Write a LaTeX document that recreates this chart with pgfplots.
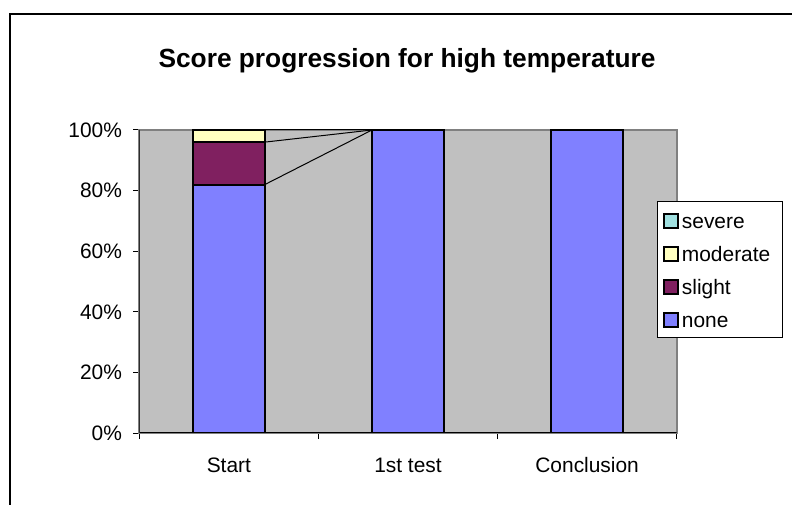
\documentclass[border=0pt]{standalone}
\usepackage{pgfplots}
\pgfplotsset{compat=1.18}
\usepackage{fontspec}
\setmainfont{Liberation Sans}

\definecolor{cnone}{HTML}{8080FF}
\definecolor{cslight}{HTML}{802060}
\definecolor{cmoderate}{HTML}{FFFFC0}
\definecolor{csevere}{HTML}{A0E0E0}
\definecolor{plotgray}{HTML}{C0C0C0}

\pgfplotsset{
  common/.style={
    at={(69.65bp,36bp)}, anchor=south west,
    scale only axis, width=268.7bp, height=151.5bp,
    xmin=-0.5, xmax=2.5, ymin=0, ymax=100,
  },
}

\begin{document}
\begin{tikzpicture}
\useasboundingbox (0,0) rectangle (396bp,252.5bp);
\draw[line width=1bp] (5bp,-2bp) -- (5bp,245.5bp) -- (398bp,245.5bp);
\node[anchor=base, font=\fontsize{13.2}{15}\selectfont\bfseries]
  at (203.5bp,218.5bp) {Score progression for high temperature};

\begin{axis}[
  common,
  ybar stacked, bar width=36bp,
  axis background/.style={fill=plotgray},
  axis line style={draw=black!50, line width=0.9bp},
  tick align=outside, major tick length=3bp,
  tick style={black, line width=0.5bp},
  xtick pos=bottom, ytick pos=left,
  xtick={-0.5,0.5,1.5,2.5}, xticklabels={},
  extra x ticks={0,1,2},
  extra x tick labels={Start,1st test,Conclusion},
  extra x tick style={major tick length=0pt},
  ytick={0,20,40,60,80,100},
  yticklabels={0\%,20\%,40\%,60\%,80\%,100\%},
  ticklabel style={font=\fontsize{10.5}{12}\selectfont},
  xticklabel style={anchor=north, inner sep=0pt, text height=8bp, text depth=0pt, yshift=-11.5bp},
  yticklabel style={anchor=east, inner sep=0pt, xshift=-5.5bp},
  every axis plot/.append style={draw=black, line width=1bp},
  reverse legend,
  legend style={
    at={(axis description cs:0.9634,0.765)}, anchor=north west,
    draw=black, line width=0.5bp, fill=white,
    font=\fontsize{10.5}{12}\selectfont,
    inner xsep=2.5bp, inner ysep=3.5bp, row sep=5bp,
    nodes={inner sep=0.5bp, text height=9.5bp, text depth=1bp},
    /tikz/every odd column/.append style={column sep=1.2bp},
  },
  legend cell align=left,
  legend image code/.code={
    \draw[#1, draw=black, line width=1bp] (0bp,-4.1bp) rectangle (7bp,2.9bp);
  },
]
\addplot[fill=cnone] coordinates {(0,82) (1,100) (2,100)};
\addplot[fill=cslight] coordinates {(0,14) (1,0) (2,0)};
\addplot[fill=cmoderate] coordinates {(0,4) (1,0) (2,0)};
\addplot[fill=csevere] coordinates {(0,0) (1,0) (2,0)};
\legend{none,slight,moderate\hspace{3bp}\mbox{},severe}
\draw[black, line width=0.6bp] (rel axis cs:0,1) -- (rel axis cs:0,0) -- (rel axis cs:1,0);
\end{axis}

% series lines
\begin{axis}[common, hide axis]
\addplot[black, line width=0.5bp] coordinates {(0.201,82) (0.799,100)};
\addplot[black, line width=0.5bp] coordinates {(0.201,96) (0.799,100)};
\addplot[black, line width=0.5bp] coordinates {(0.201,100) (0.799,100)};
\end{axis}
\end{tikzpicture}
\end{document}
